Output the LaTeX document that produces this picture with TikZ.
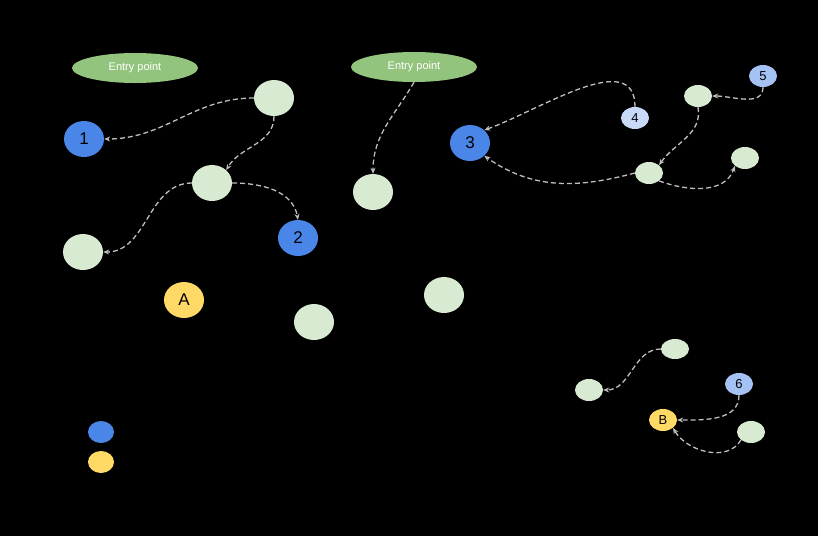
\documentclass[tikz,border=0pt]{standalone}
\usepackage{fontspec}
\setmainfont{Liberation Sans}
\usetikzlibrary{arrows.meta,shapes.geometric}
\definecolor{gr}{HTML}{D9EAD3}
\definecolor{ep}{HTML}{93C47D}
\definecolor{bl}{HTML}{4A86E8}
\definecolor{yl}{HTML}{FFD966}
\definecolor{lb}{HTML}{C9DAF8}
\definecolor{mb}{HTML}{A4C2F4}
\begin{document}
\begin{tikzpicture}[x=1pt,y=-1pt,
 n/.style={ellipse,draw=none,inner sep=0,minimum width=40pt,minimum height=36pt,font=\fontsize{17}{17}\selectfont},
 s/.style={ellipse,draw=none,inner sep=0,minimum width=28pt,minimum height=22pt,font=\fontsize{13}{13}\selectfont},
 g/.style={fill=gr},
 e/.style={ellipse,fill=ep,text=white,inner sep=0,minimum width=126pt,minimum height=30pt,font=\fontsize{11}{11}\selectfont},
 c/.style={draw={rgb,255:red,190;green,190;blue,190},line width=1.3pt,dash pattern=on 5pt off 3pt,-{Stealth[length=6pt,width=5pt]}}]
\fill[black] (0,0) rectangle (818,536);
\node[e] (e1) at (135,68) {Entry point};
\node[e] (e2) at (414,67) {Entry point};
\node[n,g] (g1) at (274,98) {};
\node[n,fill=bl] (n1) at (84,139) {1};
\node[n,g] (g2) at (212,183) {};
\node[n,fill=bl] (n2) at (298,238) {2};
\node[n,g] (g3) at (83,252) {};
\node[n,fill=yl] (A) at (184,300) {A};
\node[n,g] (g4) at (373,192) {};
\node[n,g] (g5) at (444,295) {};
\node[n,g] (g6) at (314,322) {};
\node[n,fill=bl] (n3) at (470,143) {3};
\node[s,fill=lb] (n4) at (635,118) {4};
\node[s,fill=mb] (n5) at (763,76) {5};
\node[s,g] (g7) at (698,96) {};
\node[s,g] (g8) at (649,173) {};
\node[s,g] (g9) at (745,158) {};
\node[s,g,minimum height=20pt] (g10) at (675,349) {};
\node[s,g] (g11) at (589,390) {};
\node[s,fill=mb] (n6) at (739,384) {6};
\node[s,fill=yl] (B) at (663,420) {B};
\node[s,g] (g12) at (751,432) {};
\node[ellipse,fill=bl,minimum width=26pt,minimum height=22pt,inner sep=0] (l1) at (101,432) {};
\node[ellipse,fill=yl,minimum width=26pt,minimum height=22pt,inner sep=0] (l2) at (101,462) {};
\draw[c] (g1.west) to[out=180,in=0] (n1.east);
\draw[c] (g1.south) to[out=-90,in=60] (g2.north east);
\draw[c] (g2.east) to[out=0,in=100] (n2.north);
\draw[c] (g2.west) to[out=180,in=0] (g3.east);
\draw[c] (e2.south) to[out=-120,in=90] (g4.north);
\draw[c] (n4.north) to[out=90,in=20] (n3.north east);
\draw[c] (g8.west) to[out=195,in=-35] (n3.south east);
\draw[c] (g7.south) to[out=-80,in=55] (g8.north east);
\draw[c] (n5.south) to[out=-90,in=0] (g7.east);
\draw[c] (g8.south east) to[out=-20,in=-110] (g9.south west);
\draw[c] (g10.west) to[out=180,in=0] (g11.east);
\draw[c] (n6.south) to[out=-90,in=0] (B.east);
\draw[c] (g12.south west) to[out=-120,in=-60] (B.south east);
\end{tikzpicture}
\end{document}
